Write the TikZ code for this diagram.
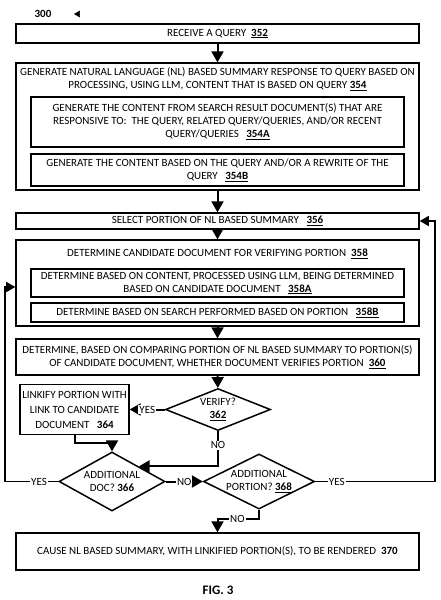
\documentclass[tikz,border=0pt]{standalone}
\usepackage{fontspec}
\setmainfont{Carlito}
\usetikzlibrary{arrows,shapes,positioning}
\newcommand{\myRef}[1]{\underline{\textbf{#1}}}

\begin{document}
\begin{tikzpicture}[x=1pt,y=-1pt,>=triangle 60,font=\fontsize{11}{13}\selectfont,
	Flow/.style={->,black,line width=2pt},
	Loop/.style={->,black,line width=1.5pt},
	StepBox/.style={rectangle,fill=white,draw=black,line width=1.5pt,minimum width=403pt,align=center,inner sep=1pt},
	SubBox/.style={rectangle,fill=white,draw=black,line width=1.5pt,minimum width=373pt,align=center,inner sep=1pt},
	Decision/.style={diamond,fill=white,draw=black,line width=1.5pt,align=center,inner sep=0pt},
	EdgeLabel/.style={fill=white,inner sep=1pt},
]
	%\draw[help lines,step=10pt,gray!20] (0,0) grid (440,600);
	\useasboundingbox (0,0) rectangle (440,600);
	\node (Num) at (43,14) {\textbf{300}};
	\coordinate (NumTip) at (74,14);
	\draw[-triangle 60,line width=0.6pt] (NumTip) ++(4,0) -- (NumTip);

	\node[StepBox,minimum height=19pt] (A) at (217.5,33.5) {RECEIVE A QUERY\ \ \myRef{352}};
	\node[StepBox,minimum height=127pt] (B) at (217.5,126.5) {};
	\node[align=center] (BT) at (217.5,79.5) {GENERATE NATURAL LANGUAGE (NL) BASED SUMMARY RESPONSE TO QUERY BASED ON\\PROCESSING, USING LLM, CONTENT THAT IS BASED ON QUERY \myRef{354}};
	\node[SubBox,minimum height=50pt] (BA) at (217.5,122) {GENERATE THE CONTENT FROM SEARCH RESULT DOCUMENT(S) THAT ARE\\RESPONSIVE TO:\ \ THE QUERY, RELATED QUERY/QUERIES, AND/OR RECENT\\QUERY/QUERIES\ \ \ \myRef{354A}};
	\node[SubBox,minimum height=32pt] (BB) at (217.5,170) {GENERATE THE CONTENT BASED ON THE QUERY AND/OR A REWRITE OF THE\\QUERY\ \ \ \myRef{354B}};
	\node[StepBox,minimum height=16pt] (C) at (217.5,221) {SELECT PORTION OF NL BASED SUMMARY\ \ \ \myRef{356}};
	\node[StepBox,minimum height=86pt] (D) at (217.5,283) {};
	\node (DT) at (217.5,254) {DETERMINE CANDIDATE DOCUMENT FOR VERIFYING PORTION\ \ \myRef{358}};
	\node[SubBox,minimum height=28pt] (DA) at (217.5,283) {DETERMINE BASED ON CONTENT, PROCESSED USING LLM, BEING DETERMINED\\BASED ON CANDIDATE DOCUMENT\ \ \ \myRef{358A}};
	\node[SubBox,minimum height=19pt] (DB) at (217.5,312.5) {DETERMINE BASED ON SEARCH PERFORMED BASED ON PORTION\ \ \ \myRef{358B}};
	\node[StepBox,minimum height=36pt] (E) at (217.5,357) {DETERMINE, BASED ON COMPARING PORTION OF NL BASED SUMMARY TO PORTION(S)\\OF CANDIDATE DOCUMENT, WHETHER DOCUMENT VERIFIES PORTION\ \ \myRef{360}};
	\node[Decision,aspect=2.5,minimum width=105pt,minimum height=42pt] (F) at (218,409.5) {VERIFY?\\\myRef{362}};
	\node[StepBox,minimum width=109pt,minimum height=50pt,font=\fontsize{11}{15}\selectfont] (G) at (74.5,409.5) {LINKIFY PORTION WITH\\LINK TO CANDIDATE\\DOCUMENT\ \ \ \textbf{364}};
	\node[Decision,aspect=1.8,minimum width=106pt,minimum height=59pt] (H) at (112,481.5) {ADDITIONAL\\DOC? \textbf{366}};
	\node[Decision,aspect=2,minimum width=111pt,minimum height=55pt] (I) at (259,481.5) {ADDITIONAL\\PORTION? \myRef{368}};
	\node[StepBox,minimum height=37pt] (J) at (217.5,551.5) {CAUSE NL BASED SUMMARY, WITH LINKIFIED PORTION(S), TO BE RENDERED\ \ \textbf{370}};
	\node[font=\fontsize{13}{15}\selectfont\bfseries] (Fig) at (218,590) {FIG. 3};

	\coordinate (RightRail) at (435,221);
	\coordinate (LeftRail) at (5,287);

	\path[Flow]
	(A) edge (B)
	(B) edge (C)
	(C) edge (D)
	(D) edge (E)
	(E) edge (F)
	(F) edge node[EdgeLabel]{YES} (G)
	(H) edge node[EdgeLabel]{NO} (I)
	;
	\draw[Flow] (G.south) -- ++(0,8) -| (H.north);
	\draw[Flow] (F.south) |- node[EdgeLabel,pos=0.2]{NO} (H.north east);
	\draw[Flow] (I.south) -- ++(0,9) -| node[EdgeLabel,pos=0.26]{NO} (J.north);
	\draw[Loop] (I.east) -- node[EdgeLabel,pos=0.18]{YES} (I.east -| RightRail) -- (RightRail) -- (C.east);
	\draw[Loop] (H.west) -- node[EdgeLabel,pos=0.36]{YES} (H.west -| LeftRail) -- (LeftRail) -- (LeftRail -| D.west);
\end{tikzpicture}
\end{document}
